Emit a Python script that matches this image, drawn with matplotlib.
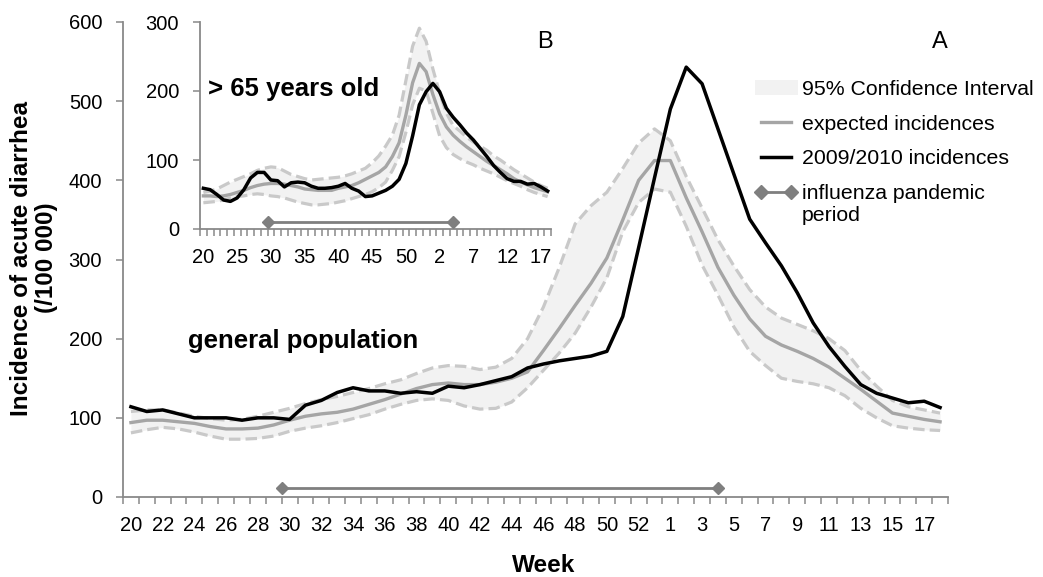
import matplotlib
matplotlib.use('Agg')
import matplotlib.pyplot as plt
import matplotlib.transforms as mtransforms
from matplotlib.patches import Patch
from matplotlib.lines import Line2D
from matplotlib.legend_handler import HandlerLine2D
import numpy as np

plt.rcParams['font.family'] = ['Liberation Sans', 'DejaVu Sans']

# ---------------- data ----------------
weeks = list(range(20, 54)) + list(range(1, 19))

# A: general population
observed = [114, 108, 110, 105, 100, 100, 100, 97, 100, 100, 98, 116, 122, 132, 138, 134,
            134, 131, 133, 131, 140, 138, 142, 147, 152, 163, 168, 172, 175, 178, 184, 228,
            315, 403, 490, 543, 522, 465, 408, 351, 321, 292, 258, 220, 190, 165, 142, 131,
            125, 119, 121, 113]
expected = [94, 97, 97, 95, 93, 89, 86, 86, 87, 91, 97, 102, 105, 107, 111, 117,
            123, 130, 137, 142, 144, 142, 142, 145, 150, 158, 185, 213, 242, 270, 302, 350,
            400, 425, 425, 378, 335, 290, 255, 225, 203, 192, 184, 175, 164, 150, 136, 121,
            106, 102, 98, 95]
ci_upper = [108, 110, 110, 106, 102, 99, 97, 98, 102, 107, 112, 118, 123, 127, 132, 137,
            143, 148, 156, 163, 166, 165, 161, 164, 175, 200, 240, 290, 345, 368, 385, 415,
            447, 465, 450, 405, 365, 325, 292, 262, 240, 226, 218, 210, 200, 185, 160, 140,
            122, 114, 110, 106]
ci_lower = [81, 85, 88, 86, 82, 77, 73, 73, 74, 77, 83, 87, 90, 94, 99, 104,
            111, 117, 122, 124, 122, 115, 111, 112, 120, 138, 160, 182, 207, 240, 277, 335,
            372, 389, 385, 342, 293, 255, 215, 184, 166, 150, 146, 143, 138, 128, 112, 100,
            90, 87, 85, 84]

# B: > 65 years old
old_observed = [59, 57, 50, 42, 40, 45, 57, 74, 82, 82, 71, 70, 61, 67, 68, 67,
                62, 59, 59, 60, 62, 66, 59, 55, 47, 48, 52, 56, 62, 72, 95, 135,
                180, 199, 211, 199, 175, 162, 151, 139, 129, 117, 105, 92, 82, 73, 69, 69,
                65, 66, 61, 55]
old_expected = [48, 48, 47, 48, 50, 53, 56, 60, 63, 65, 66, 66, 65, 63, 61, 58,
                57, 56, 56, 56, 59, 61, 63, 67, 72, 77, 82, 90, 105, 125, 165, 212,
                240, 228, 195, 167, 148, 136, 127, 119, 112, 105, 98, 92, 86, 80, 73, 68,
                64, 60, 57, 54]
old_upper = [53, 55, 58, 63, 68, 72, 76, 80, 85, 88, 90, 89, 84, 79, 76, 73,
             71, 72, 73, 74, 75, 77, 80, 84, 88, 96, 106, 120, 136, 165, 215, 265,
             291, 272, 232, 197, 168, 150, 142, 133, 126, 120, 114, 106, 100, 93, 86, 80,
             74, 68, 63, 59]
old_lower = [38, 39, 40, 42, 45, 47, 48, 50, 51, 50, 48, 47, 45, 42, 39, 37,
             35, 35, 36, 37, 39, 41, 44, 47, 50, 54, 60, 68, 85, 105, 140, 180,
             204, 200, 168, 135, 118, 108, 102, 97, 93, 88, 84, 80, 75, 70, 66, 62,
             57, 53, 50, 47]

# influenza pandemic period (category positions: mid week 29/30 .. week 4)
pandemic_pos = [9.5, 37.0]
pandemic_level_main = 12
pandemic_level_old = 10

legend_labels = ['95% Confidence Interval', 'expected incidences', '2009/2010 incidences',
                 'influenza pandemic\nperiod']

# ---------------- style ----------------
W, H = 1043, 577
GRID = '#898989'
C_OBS = '#000000'
C_EXP = '#a5a5a5'
C_CI = '#c9c9c9'
C_FILL = '#f2f2f2'
C_PAN = '#7f7f7f'


def fx(px):
    return px / W


def fy(py):
    return 1 - py / H


def draw(ax, obs, exp, up, lo, pan_level):
    x = np.arange(len(weeks))
    ax.fill_between(x, lo, up, color=C_FILL, lw=0, zorder=1)
    ax.plot(x, up, color=C_CI, lw=2.3, dashes=(3.6, 1.6), zorder=2)
    ax.plot(x, lo, color=C_CI, lw=2.3, dashes=(3.6, 1.6), zorder=2)
    ax.plot(x, exp, color=C_EXP, lw=2.4, zorder=3)
    ax.plot(x, obs, color=C_OBS, lw=2.5, zorder=4)
    ax.plot(pandemic_pos, [pan_level, pan_level], color=C_PAN, lw=2.0,
            marker='D', ms=6.5, zorder=3)
    ax.set_xlim(-0.5, len(weeks) - 0.5)
    for s in ['top', 'right']:
        ax.spines[s].set_visible(False)
    for s in ['left', 'bottom']:
        ax.spines[s].set_color(GRID)
        ax.spines[s].set_linewidth(1.3)
    ax.set_xticks(np.arange(-0.5, len(weeks), 1))
    ax.set_xticklabels([])
    ax.tick_params(axis='x', which='major', length=5, width=1.1, color=GRID)
    ax.tick_params(axis='y', which='major', length=5, width=1.1, color=GRID,
                   labelsize=14.5, pad=10)
    return x


class RaisedHandler(HandlerLine2D):
    """Line handle lifted so that it lines up with the first line of a two-line label."""

    def __init__(self, shift_px, **kw):
        super().__init__(**kw)
        self.shift_px = shift_px

    def create_artists(self, legend, orig_handle, xdescent, ydescent, width, height,
                       fontsize, trans):
        arts = super().create_artists(legend, orig_handle, xdescent, ydescent, width,
                                      height, fontsize, trans)
        t = trans + mtransforms.Affine2D().translate(0, self.shift_px)
        for a in arts:
            a.set_transform(t)
        return arts


fig = plt.figure(figsize=(W / 100, H / 100), dpi=100)

# main axes (A)
ax = fig.add_axes([fx(123), fy(497), fx(948) - fx(123), fy(22) - fy(497)])
x = draw(ax, observed, expected, ci_upper, ci_lower, pandemic_level_main)
ax.set_ylim(0, 600)
ax.set_yticks(range(0, 601, 100))
ax.set_xticks(x[::2], minor=True)
ax.set_xticklabels([str(w) for w in weeks[::2]], minor=True)
ax.tick_params(axis='x', which='minor', length=0, labelsize=14.5, pad=14)

# inset (B)
iax = fig.add_axes([fx(200), fy(229), fx(551) - fx(200), fy(22) - fy(229)])
iax.set_facecolor('white')
xi = draw(iax, old_observed, old_expected, old_upper, old_lower, pandemic_level_old)
iax.set_ylim(0, 300)
iax.set_yticks(range(0, 301, 100))
iax.set_xticks(xi[::5], minor=True)
iax.set_xticklabels([str(w) for w in weeks[::5]], minor=True)
iax.tick_params(axis='x', which='minor', length=0, labelsize=14.5, pad=14)

# texts
fig.text(fx(34), fy(258), 'Incidence of acute diarrhea\n(/100 000)', rotation=90,
         ha='center', va='center', fontsize=17.5, fontweight='bold', linespacing=1.1)
fig.text(fx(544), fy(566), 'Week', ha='center', va='center', fontsize=17.5, fontweight='bold')
fig.text(fx(188), fy(348), 'general population', ha='left', va='baseline',
         fontsize=18.5, fontweight='bold')
fig.text(fx(208), fy(96), '> 65 years old', ha='left', va='baseline',
         fontsize=18.5, fontweight='bold')
fig.text(fx(545), fy(42), 'B', ha='center', va='center', fontsize=17)
fig.text(fx(940), fy(42), 'A', ha='center', va='center', fontsize=17)

# legend
pan_handle = Line2D([], [], color=C_PAN, lw=2.0, marker='D', ms=7)
handles = [Patch(facecolor=C_FILL, edgecolor='none'),
           Line2D([], [], color=C_EXP, lw=2.4),
           Line2D([], [], color=C_OBS, lw=2.5),
           pan_handle]
leg = fig.legend(handles, legend_labels, loc='upper left',
                 bbox_to_anchor=(fx(755), fy(80)),
                 frameon=False, fontsize=15.3, handlelength=2.0, handletextpad=0.2,
                 labelspacing=0.74, borderaxespad=0, borderpad=0, numpoints=2,
                 handler_map={pan_handle: RaisedHandler(12.8, numpoints=2)})
for t in leg.get_texts():
    t.set_linespacing(1.2)

fig.savefig('out.png', dpi=100)
